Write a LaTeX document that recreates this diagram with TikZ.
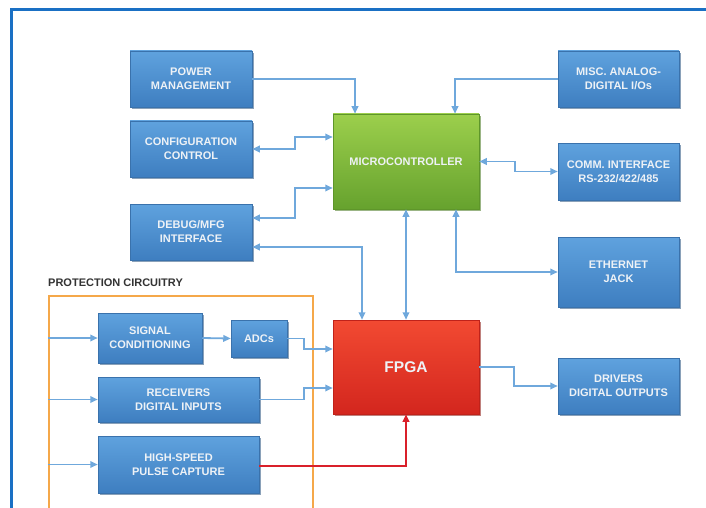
\documentclass[tikz,border=0pt]{standalone}
\usepackage{fontspec}
\setmainfont{Liberation Sans}
\usetikzlibrary{arrows.meta,shadows,calc}
\definecolor{framecol}{HTML}{1A70C4}
\definecolor{linecol}{HTML}{6FA8DC}
\definecolor{redline}{HTML}{D9202A}
\definecolor{orangecol}{HTML}{F5A84A}
\definecolor{labelcol}{HTML}{333333}
\definecolor{txtcol}{HTML}{EEF2F6}
\definecolor{btop}{HTML}{5FA2DE}
\definecolor{bbot}{HTML}{3E7EC0}
\definecolor{bdraw}{HTML}{3A72AC}
\definecolor{bshadow}{HTML}{2B5480}
\definecolor{gtop}{HTML}{9CCF4C}
\definecolor{gbot}{HTML}{66A22E}
\definecolor{gdraw}{HTML}{5E962A}
\definecolor{gshadow}{HTML}{4A7A22}
\definecolor{rtop}{HTML}{F24A32}
\definecolor{rbot}{HTML}{D3261E}
\definecolor{rdraw}{HTML}{C0221A}
\definecolor{rshadow}{HTML}{8E1A14}
\tikzset{
  base/.style={rectangle, inner sep=2pt, align=center, text=txtcol,
    font=\bfseries\fontsize{11}{14}\selectfont, line width=0.5pt},
  bluebox/.style={base, top color=btop, bottom color=bbot, draw=bdraw,
    drop shadow={shadow xshift=1.5pt, shadow yshift=-2pt, fill=bshadow, opacity=0.55}},
  greenbox/.style={base, top color=gtop, bottom color=gbot, draw=gdraw,
    drop shadow={shadow xshift=1.5pt, shadow yshift=-2pt, fill=gshadow, opacity=0.55}},
  redbox/.style={base, top color=rtop, bottom color=rbot, draw=rdraw,
    drop shadow={shadow xshift=1.5pt, shadow yshift=-2pt, fill=rshadow, opacity=0.55},
    font=\bfseries\fontsize{15.5}{18}\selectfont},
  arr/.style={draw=linecol, line width=1.8pt, -{Triangle[length=7.5pt,width=6.5pt]}},
  arrtwo/.style={draw=linecol, line width=1.8pt, {Triangle[length=7.5pt,width=6.5pt]}-{Triangle[length=7.5pt,width=6.5pt]}},
  arrred/.style={draw=redline, line width=1.8pt, -{Triangle[length=7.5pt,width=6.5pt]}},
}
\begin{document}
\begin{tikzpicture}[x=1pt,y=-1pt]
\clip (0,0) rectangle (706,508);
\fill[white] (0,0) rectangle (706,508);
% outer frame
\draw[framecol, line width=2.8pt] (11.5,730) -- (11.5,9.5) -- (760,9.5);
% protection
\node[anchor=west, text=labelcol, font=\bfseries\fontsize{11}{13}\selectfont, inner sep=0pt] (plabel) at (48,283) {PROTECTION CIRCUITRY};
\node[draw=orangecol, line width=1.6pt, minimum width=264pt, minimum height=240pt, inner sep=0pt] (prot) at (181,416) {};
% boxes
\node[bluebox, minimum width=122pt, minimum height=56pt] (pm) at (191,79) {POWER\\MANAGEMENT};
\node[bluebox, minimum width=122pt, minimum height=56pt] (cc) at (191,149) {CONFIGURATION\\CONTROL};
\node[bluebox, minimum width=122pt, minimum height=56pt] (dbg) at (191,232) {DEBUG/MFG\\INTERFACE};
\node[greenbox, minimum width=146pt, minimum height=95pt] (mc) at (406,161.5) {MICROCONTROLLER};
\node[bluebox, minimum width=121pt, minimum height=56pt] (misc) at (618.5,79) {MISC. ANALOG-\\DIGITAL I/Os};
\node[bluebox, minimum width=121pt, minimum height=57pt] (comm) at (618.5,171.5) {COMM. INTERFACE\\RS-232/422/485};
\node[bluebox, minimum width=121pt, minimum height=70pt] (eth) at (618.5,272) {ETHERNET\\JACK};
\node[redbox, minimum width=146pt, minimum height=94pt] (fpga) at (406,367) {FPGA};
\node[bluebox, minimum width=121pt, minimum height=56pt] (drv) at (618.5,386) {DRIVERS\\DIGITAL OUTPUTS};
\node[bluebox, minimum width=104pt, minimum height=50pt] (sig) at (150,338) {SIGNAL\\CONDITIONING};
\node[bluebox, minimum width=56pt, minimum height=37pt] (adc) at (259,338.5) {ADCs};
\node[bluebox, minimum width=161pt, minimum height=45pt] (rcv) at (178.5,399.5) {RECEIVERS\\DIGITAL INPUTS};
\node[bluebox, minimum width=161pt, minimum height=57pt] (hsp) at (178.5,464.5) {HIGH-SPEED\\PULSE CAPTURE};
% connectors
\draw[arr] (pm.east) -| ([xshift=-51pt]mc.north);
\draw[arr] (misc.west) -| ([xshift=49pt]mc.north);
\draw[arrtwo] (cc.east) -- ++(43,0) |- ([yshift=24.5pt]mc.west);
\draw[arrtwo] ([yshift=14pt]dbg.east) -- ++(43,0) |- ([yshift=-26.5pt]mc.west);
\draw[arrtwo] ([yshift=-15pt]dbg.east) -| ([xshift=-44pt]fpga.north);
\draw[arrtwo] (mc.south) -- (fpga.north);
\draw[arrtwo] ([xshift=50pt]mc.south) |- (eth.west);
\draw[arrtwo] (mc.east) -- ++(36,0) |- (comm.west);
\draw[arr] (fpga.east) -- ++(35,0) |- (drv.west);
\draw[arr] (prot.west |- sig.west) -- (sig.west);
\draw[arr] (prot.west |- rcv.west) -- (rcv.west);
\draw[arr] (prot.west |- hsp.west) -- (hsp.west);
\draw[arr] (sig.east) -- (adc.west);
\draw[arr] (adc.east) -- ++(17,0) |- ([yshift=18pt]fpga.west);
\draw[arr] (rcv.east) -- ++(45,0) |- ([yshift=-21pt]fpga.west);
\draw[arrred] ([yshift=-1.5pt]hsp.east) -| (fpga.south);
\end{tikzpicture}
\end{document}
